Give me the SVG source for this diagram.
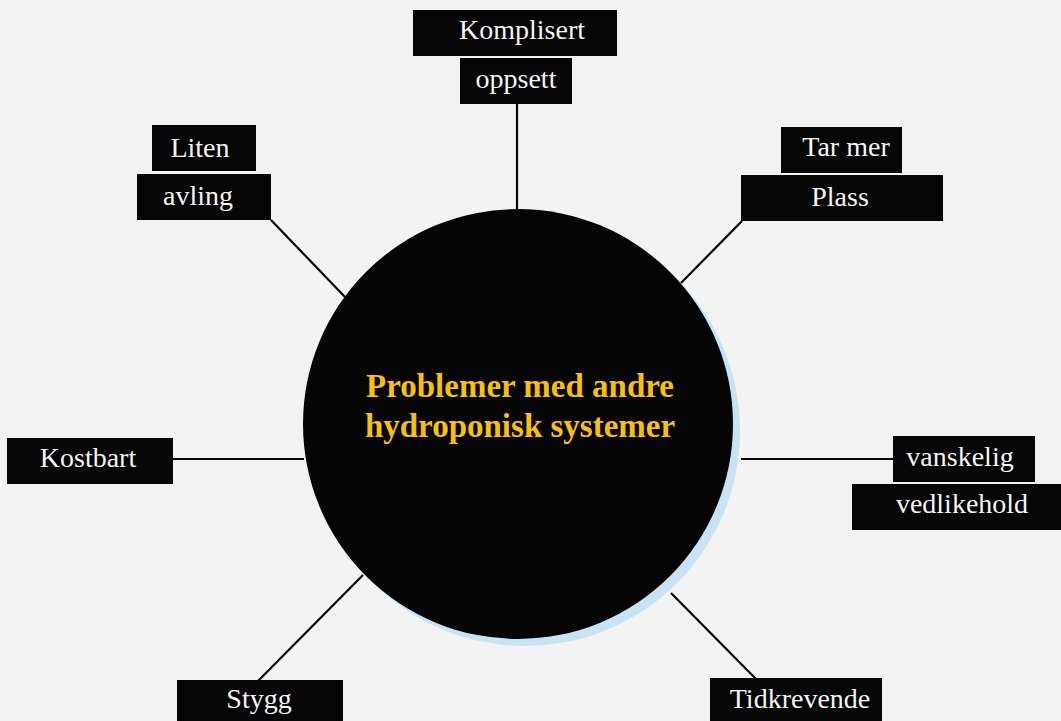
<svg xmlns="http://www.w3.org/2000/svg" width="1061" height="721" viewBox="0 0 1061 721">
<style>
.bg{fill:#f2f3f2}
.box{fill:#060606}
.lbl{font-family:"Liberation Serif","Times New Roman",serif;font-size:28px;fill:#f4f4f4;text-anchor:middle}
.title{font-family:"Liberation Serif","Times New Roman",serif;font-size:33px;font-weight:bold;fill:#f7c00a;text-anchor:middle}
.conn line{stroke:#050505;stroke-width:2.2}
</style>
<rect class="bg" x="0" y="0" width="1061" height="721"/>
<g id="center">
<circle cx="525" cy="431" r="215" fill="#c8e3f4"/>
<circle cx="518" cy="424" r="215" fill="#050505"/>
<text class="title" x="520" y="397">Problemer med andre</text>
<text class="title" x="520" y="437">hydroponisk systemer</text>
</g>
<g id="connectors" class="conn">
<line x1="517" y1="104" x2="517" y2="210"/>
<line x1="271" y1="220" x2="345" y2="297"/>
<line x1="742" y1="221" x2="681" y2="283"/>
<line x1="173" y1="459" x2="304" y2="459"/>
<line x1="741" y1="459" x2="893" y2="459"/>
<line x1="258" y1="681" x2="363" y2="575"/>
<line x1="671" y1="593" x2="756" y2="679"/>
</g>
<g id="node-komplisert">
<rect class="box" x="413" y="10" width="204" height="46"/>
<rect class="box" x="460" y="58" width="112" height="46"/>
<text class="lbl" x="522" y="39">Komplisert</text>
<text class="lbl" x="516" y="88">oppsett</text>
</g>
<g id="node-liten">
<rect class="box" x="152" y="125" width="104" height="46"/>
<rect class="box" x="137" y="174" width="134" height="46"/>
<text class="lbl" x="200" y="157">Liten</text>
<text class="lbl" x="198" y="205">avling</text>
</g>
<g id="node-tarmer">
<rect class="box" x="781" y="127" width="121" height="46"/>
<rect class="box" x="741" y="175" width="202" height="46"/>
<text class="lbl" x="846" y="156">Tar mer</text>
<text class="lbl" x="840" y="206">Plass</text>
</g>
<g id="node-kostbart">
<rect class="box" x="7" y="438" width="166" height="46"/>
<text class="lbl" x="88" y="467">Kostbart</text>
</g>
<g id="node-vanskelig">
<rect class="box" x="893" y="436" width="142" height="46"/>
<rect class="box" x="852" y="484" width="209" height="46"/>
<text class="lbl" x="960" y="466">vanskelig</text>
<text class="lbl" x="962" y="513">vedlikehold</text>
</g>
<g id="node-stygg">
<rect class="box" x="177" y="680" width="166" height="46"/>
<text class="lbl" x="259" y="708">Stygg</text>
</g>
<g id="node-tidkrevende">
<rect class="box" x="710" y="678" width="172" height="46"/>
<text class="lbl" x="800" y="708">Tidkrevende</text>
</g>
</svg>
